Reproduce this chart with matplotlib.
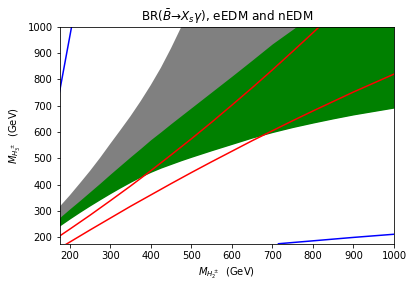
import matplotlib
matplotlib.use("Agg")
import matplotlib.pyplot as plt
import numpy as np

# Band boundaries, M_H2 grid in GeV
band_x = [175, 200, 225, 250, 275, 300, 325, 350, 375, 400, 425, 450, 475, 500, 550, 600, 650, 700, 750, 800, 850, 900, 950, 1000]
gray_upper = [316, 359, 405, 452, 502, 555, 607, 660, 717, 778, 844, 918, 998, 1082, 1250, 1400, 1550, 1700, 1850, 2000, 2150, 2300, 2450, 2600]
green_upper = [275, 308, 340, 373, 406, 440, 473, 506, 538, 571, 601, 632, 662, 692, 752, 812, 873, 935, 990, 1045, 1100, 1155, 1210, 1265]
green_lower = [243, 269.5, 295, 319.5, 343, 366, 388, 409, 429, 447, 463, 477, 491, 504, 529, 553, 577, 598, 617, 634, 650, 665, 678, 691]

# Red curves
red1_x = [175, 200, 250, 300, 350, 400, 450, 500, 550, 600, 650, 700, 750, 800, 820]
red1_y = [205, 231, 284, 339, 395, 453, 513, 574, 637, 702, 768, 836, 906, 977, 1006]
red2_x = [175, 200, 250, 300, 350, 400, 450, 500, 550, 600, 650, 700, 750, 800, 850, 900, 950, 1000]
red2_y = [159, 182, 228, 273, 318, 361, 404, 446, 487, 527, 567, 605, 643, 680, 716, 752, 786, 820]

# Blue curves
blue1_x = [175, 190, 206]
blue1_y = [752, 877, 1010]
blue2_x = [715, 800, 900, 1000]
blue2_y = [176, 187, 200, 212]

fig = plt.figure(figsize=(413/72, 288/72), dpi=72)
ax = fig.add_axes([0.1441, 0.1528, 0.8099, 0.7545])

ax.fill_between(band_x, green_lower, gray_upper, color='grey', linewidth=0)
ax.fill_between(band_x, green_lower, green_upper, color='green', linewidth=0)
ax.plot(red1_x, red1_y, color='red', lw=1.5)
ax.plot(red2_x, red2_y, color='red', lw=1.5)
ax.plot(blue1_x, blue1_y, color='blue', lw=1.5)
ax.plot(blue2_x, blue2_y, color='blue', lw=1.5)

ax.set_xlim(175, 1000)
ax.set_ylim(175, 1000)
ax.set_xticks([200, 300, 400, 500, 600, 700, 800, 900, 1000])
ax.set_yticks([200, 300, 400, 500, 600, 700, 800, 900, 1000])
ax.set_title('BR($\\bar{B}$\u2192$X_s\\gamma$), eEDM and nEDM')
ax.set_xlabel(r'$M_{H_2^\pm}$  (GeV)')
ax.set_ylabel(r'$M_{H_3^\pm}$  (GeV)')

fig.savefig('out.png', dpi=72)
